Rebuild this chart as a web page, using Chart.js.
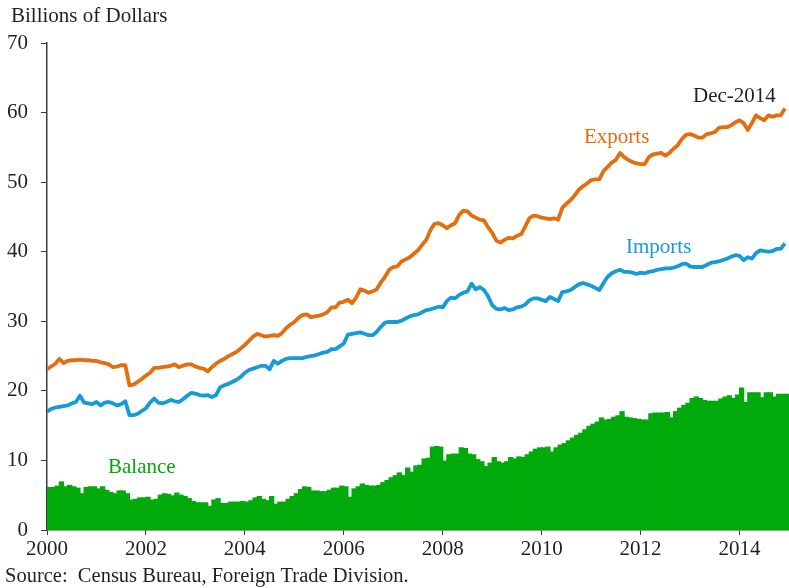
<!DOCTYPE html>
<html>
<head>
<meta charset="utf-8">
<title>U.S. Trade in Services</title>
<script src="https://cdn.jsdelivr.net/npm/chart.js@4.4.1/dist/chart.umd.min.js"></script>
<style>
  html, body { margin: 0; padding: 0; background: #fff; }
  #wrap { position: relative; width: 789px; height: 588px; }
</style>
</head>
<body>
<div id="wrap"><canvas id="trade-graph"></canvas></div>
<script>
// monthly values, Jan 2000 .. Dec 2014 (billions of dollars)
var startYear = 2000;
var yearTicks = [2000, 2002, 2004, 2006, 2008, 2010, 2012, 2014];
var valueTicks = [0, 10, 20, 30, 40, 50, 60, 70];

var exportValues = [
  23.1, 23.5, 23.9, 24.6, 24.0, 24.3, 24.4, 24.4, 24.5, 24.4, 24.4, 24.3,
  24.3, 24.1, 24.0, 23.8, 23.4, 23.5, 23.7, 23.7, 20.8, 20.9, 21.3, 21.7,
  22.2, 22.6, 23.3, 23.3, 23.4, 23.5, 23.6, 23.8, 23.4, 23.6, 23.8, 23.8,
  23.5, 23.3, 23.2, 22.8, 23.4, 23.9, 24.3, 24.6, 25.0, 25.3, 25.6, 26.1,
  26.6, 27.2, 27.8, 28.2, 28.0, 27.8, 27.9, 28.0, 27.9, 28.3, 29.0, 29.5,
  29.9, 30.5, 30.9, 31.0, 30.6, 30.7, 30.8, 31.0, 31.3, 32.0, 32.0, 32.7,
  32.8, 33.1, 32.6, 33.4, 34.6, 34.4, 34.1, 34.3, 34.6, 35.6, 36.4, 37.4,
  37.8, 37.9, 38.6, 38.9, 39.2, 39.7, 40.2, 41.0, 41.7, 43.1, 44.0, 44.1,
  43.8, 43.4, 43.8, 44.1, 45.3, 45.9, 45.8, 45.2, 44.9, 44.6, 44.5, 43.5,
  42.7, 41.6, 41.3, 41.7, 42.0, 41.9, 42.3, 42.5, 43.6, 44.8, 45.2, 45.1,
  44.9, 44.8, 44.7, 44.8, 44.6, 46.3, 46.9, 47.4, 48.1, 48.9, 49.4, 49.8,
  50.3, 50.4, 50.4, 51.6, 52.2, 52.8, 53.2, 54.2, 53.6, 53.2, 52.9, 52.7,
  52.6, 52.6, 53.6, 54.0, 54.1, 54.2, 53.8, 54.2, 54.8, 55.3, 56.2, 56.8,
  56.9, 56.7, 56.4, 56.4, 56.9, 57.0, 57.2, 57.8, 57.9, 57.9, 58.2, 58.6,
  58.9, 58.5, 57.5, 58.5, 59.6, 59.2, 58.9, 59.6, 59.4, 59.6, 59.6, 60.6
];

var importValues = [
  17.0, 17.4, 17.6, 17.7, 17.8, 17.9, 18.2, 18.4, 19.3, 18.3, 18.2, 18.1,
  18.4, 17.9, 18.3, 18.4, 18.2, 17.9, 18.1, 18.5, 16.5, 16.5, 16.7, 17.1,
  17.5, 18.3, 18.9, 18.3, 18.2, 18.4, 18.7, 18.5, 18.4, 18.8, 19.3, 19.7,
  19.6, 19.4, 19.3, 19.4, 19.1, 19.4, 20.5, 20.8, 21.0, 21.3, 21.6, 22.0,
  22.6, 23.0, 23.2, 23.4, 23.6, 23.6, 23.1, 24.3, 23.9, 24.3, 24.6, 24.7,
  24.7, 24.7, 24.7, 24.9, 25.0, 25.1, 25.3, 25.5, 25.6, 26.0, 26.0, 26.4,
  26.8, 28.1, 28.2, 28.3, 28.4, 28.2, 28.0, 28.0, 28.5, 29.2, 29.8, 29.9,
  29.9, 29.9, 30.1, 30.4, 30.7, 30.9, 31.0, 31.3, 31.6, 31.7, 31.9, 32.1,
  32.0, 32.9, 33.4, 33.3, 33.8, 34.1, 34.3, 35.4, 34.6, 34.9, 34.5, 33.6,
  32.3, 31.8, 31.7, 31.9, 31.6, 31.7, 32.0, 32.1, 32.4, 33.0, 33.3, 33.3,
  33.1, 32.9, 33.5, 33.2, 32.9, 34.2, 34.3, 34.5, 34.9, 35.3, 35.5, 35.3,
  35.1, 34.8, 34.5, 35.5, 36.4, 36.9, 37.2, 37.4, 37.1, 37.1, 37.0, 36.8,
  37.0, 36.9, 37.1, 37.2, 37.4, 37.5, 37.6, 37.6, 37.7, 37.9, 38.2, 38.3,
  37.9, 37.8, 37.8, 37.8, 38.1, 38.4, 38.5, 38.6, 38.8, 39.0, 39.3, 39.5,
  39.4, 38.8, 39.2, 39.0, 39.8, 40.2, 40.1, 40.0, 40.1, 40.4, 40.4, 41.2
];

var balanceValues = [
  6.1, 6.1, 6.3, 6.9, 6.2, 6.4, 6.2, 6.0, 5.2, 6.1, 6.2, 6.2,
  5.9, 6.2, 5.7, 5.4, 5.2, 5.6, 5.6, 5.2, 4.3, 4.4, 4.6, 4.6,
  4.7, 4.3, 4.4, 5.0, 5.2, 5.1, 4.9, 5.3, 5.0, 4.8, 4.5, 4.1,
  3.9, 3.9, 3.9, 3.4, 4.3, 4.5, 3.8, 3.8, 4.0, 4.0, 4.0, 4.1,
  4.0, 4.2, 4.6, 4.8, 4.4, 4.2, 4.8, 3.7, 4.0, 4.0, 4.4, 4.8,
  5.2, 5.8, 6.2, 6.1, 5.6, 5.6, 5.5, 5.5, 5.7, 6.0, 6.0, 6.3,
  6.2, 4.7, 5.9, 6.2, 6.6, 6.4, 6.3, 6.3, 6.4, 6.8, 7.1, 7.5,
  7.8, 8.2, 7.8, 8.9, 8.3, 9.2, 9.3, 10.2, 10.3, 11.9, 12.0, 11.9,
  9.9, 10.8, 10.9, 10.9, 11.8, 11.7, 10.9, 10.8, 10.1, 9.8, 9.1, 9.6,
  10.4, 9.8, 9.6, 9.8, 10.4, 10.2, 10.5, 10.4, 10.8, 11.2, 11.6, 11.8,
  11.8, 11.9, 11.2, 11.8, 12.2, 12.4, 12.8, 13.2, 13.6, 13.9, 14.4, 14.9,
  15.2, 15.5, 16.1, 15.8, 15.9, 16.2, 16.4, 17.0, 16.2, 16.1, 16.0, 15.9,
  15.8, 15.8, 16.7, 16.8, 16.8, 16.8, 16.9, 16.1, 17.0, 17.5, 17.9, 18.2,
  18.9, 19.1, 18.9, 18.6, 18.5, 18.5, 18.5, 18.8, 19.1, 19.3, 18.9, 19.4,
  20.4, 18.3, 19.7, 19.7, 19.7, 19.0, 19.7, 19.7, 19.1, 19.5, 19.5, 19.5
];

var serif = "'Liberation Serif', 'Times New Roman', serif";
var orange = 'rgb(228, 110, 14)';
var blue = 'rgb(22, 155, 218)';
var green = 'rgb(0, 170, 10)';
var axisColor = '#3a3a3a';

// month i -> decimal year (bars sit inside their month, lines on month start)
function points(values, shift) {
    return values.map(function (v, i) {
        return { x: startYear + (i + shift) / 12, y: v };
    });
}

// titles, source and series labels
var textLayer = {
    id: 'textLayer',
    afterDraw: function (chart) {
        var ctx = chart.ctx;
        ctx.save();
        ctx.textBaseline = 'alphabetic';
        ctx.textAlign = 'left';
        ctx.font = '21px ' + serif;
        ctx.fillStyle = '#231f20';
        ctx.fillText('Billions of Dollars', 11, 22);
        ctx.fillText('Dec-2014', 693, 102);
        ctx.fillStyle = orange;
        ctx.fillText('Exports', 584, 143);
        ctx.fillStyle = blue;
        ctx.fillText('Imports', 626, 253);
        ctx.fillStyle = green;
        ctx.fillText('Balance', 108, 473);
        ctx.font = '20.5px ' + serif;
        ctx.fillStyle = '#231f20';
        ctx.fillText('Source:  Census Bureau, Foreign Trade Division.', 5, 582);
        ctx.restore();
    }
};

var ctx = document.getElementById('trade-graph').getContext('2d');

new Chart(ctx, {
    type: 'bar',
    data: {
        datasets: [{
            type: 'line',
            label: 'Exports',
            data: points(exportValues, 0),
            borderColor: orange,
            borderWidth: 3.8,
            pointRadius: 0,
            tension: 0,
            borderJoinStyle: 'round',
            order: 1
        }, {
            type: 'line',
            label: 'Imports',
            data: points(importValues, 0),
            borderColor: blue,
            borderWidth: 3.8,
            pointRadius: 0,
            tension: 0,
            borderJoinStyle: 'round',
            order: 1
        }, {
            type: 'bar',
            label: 'Balance',
            data: points(balanceValues, 0.5),
            backgroundColor: green,
            borderWidth: 0,
            inflateAmount: 0.6,
            barPercentage: 1.0,
            categoryPercentage: 1.0,
            order: 2
        }]
    },
    options: {
        responsive: true,
        maintainAspectRatio: false,
        animation: false,
        layout: {
            padding: { top: 43, right: 0, bottom: 0, left: 0 }
        },
        plugins: {
            legend: { display: false },
            tooltip: { enabled: false },
            title: { display: false }
        },
        scales: {
            x: {
                type: 'linear',
                min: 2000,
                max: 2015,
                offset: false,
                afterBuildTicks: function (scale) {
                    scale.ticks = yearTicks.map(function (v) { return { value: v }; });
                },
                afterFit: function (scale) { scale.height = 58; },
                grid: { drawOnChartArea: false, offset: false, tickLength: 5, color: axisColor, lineWidth: 1 },
                border: { color: axisColor, width: 1.5 },
                ticks: {
                    autoSkip: false,
                    maxRotation: 0,
                    padding: 2,
                    color: '#231f20',
                    font: { family: serif, size: 21 },
                    callback: function (v) { return String(v); }
                }
            },
            y: {
                min: 0,
                max: 70,
                afterBuildTicks: function (scale) {
                    scale.ticks = valueTicks.map(function (v) { return { value: v }; });
                },
                afterFit: function (scale) { scale.width = 47; },
                grid: { drawOnChartArea: false, tickLength: 6, color: axisColor, lineWidth: 1 },
                border: { color: axisColor, width: 1.5 },
                ticks: {
                    padding: 13,
                    color: '#231f20',
                    font: { family: serif, size: 21 }
                }
            }
        }
    },
    plugins: [textLayer]
});
</script>
</body>
</html>
